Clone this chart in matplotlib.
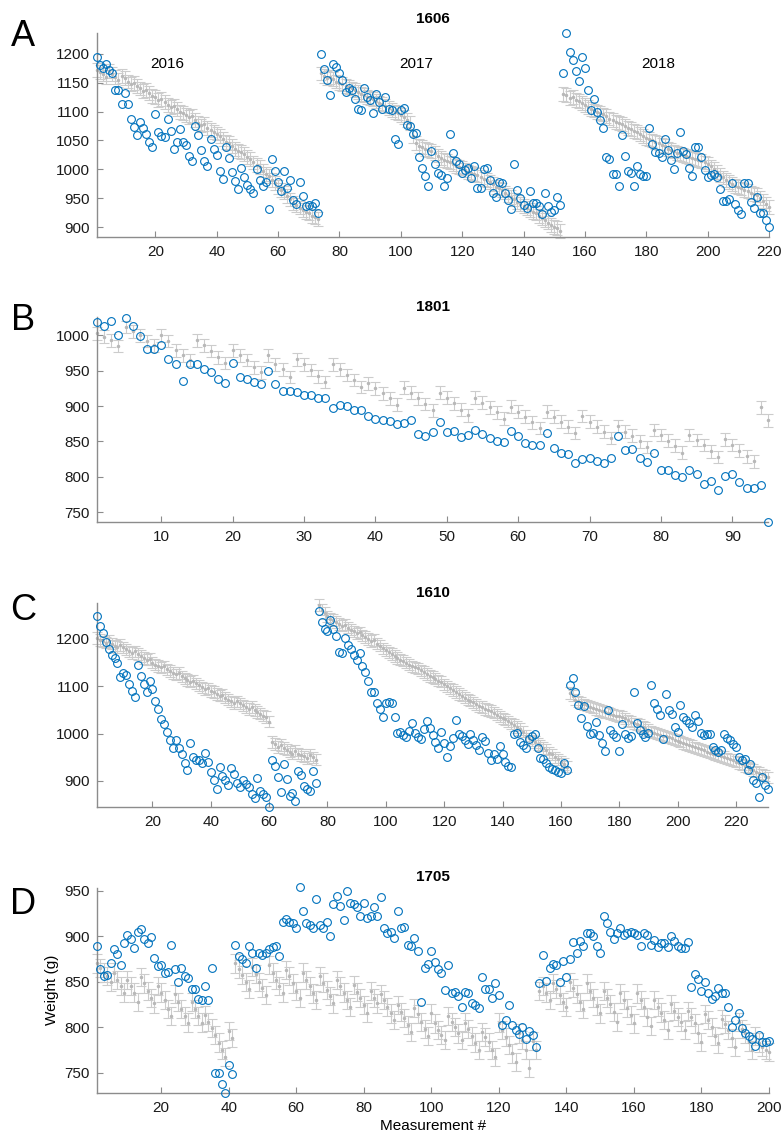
import numpy as np
import matplotlib.pyplot as plt

plt.rcParams['font.family'] = ['Liberation Sans', 'DejaVu Sans']

BLUE = '#0072BD'
GREY = '#cccccc'
GREY_DOT = '#b8b8b8'
AXIS = '#8c8c8c'

# ---- panel A: bird 1606, three seasons ----
a_weight = [
    # 2016
    1194, 1181, 1176, 1183, 1172, 1166, 1138, 1138, 1114, 1132,
    1113, 1087, 1074, 1059, 1082, 1071, 1061, 1048, 1039, 1095,
    1065, 1058, 1056, 1087, 1067, 1036, 1048, 1070, 1047, 1042,
    1024, 1015, 1075, 1059, 1033, 1014, 1005, 1052, 1035, 1025,
    998, 983, 1039, 1020, 995, 980, 966, 1002, 987, 973,
    966, 960, 1000, 982, 971, 978, 932, 1018, 998, 979,
    963, 998, 967, 982, 947, 940, 978, 954, 936, 939,
    937, 941, 925,
    # 2017
    1199, 1174, 1155, 1129, 1183, 1177, 1167, 1154, 1134, 1140,
    1137, 1121, 1105, 1103, 1140, 1125, 1120, 1097, 1131, 1117,
    1105, 1126, 1105,
    1102, 1052, 1044, 1103, 1107, 1076, 1075, 1062, 1063, 1022,
    1002, 989, 971, 1032, 1010, 993, 990, 971, 985, 1061,
    1029, 1015, 1010, 994, 999, 1002, 985, 1005, 967, 967,
    1000, 1002, 982, 959, 952, 979, 976, 959, 947, 932,
    1010, 964, 950, 939, 933, 963, 942, 941, 937, 923,
    959, 937, 927, 930, 953, 939,
    # 2018
    1167, 1236, 1203, 1190, 1170, 1153, 1195, 1176, 1137, 1103,
    1122, 1099, 1086, 1071, 1022, 1018, 992, 992, 971, 1059,
    1023, 998, 994, 971, 1006, 992, 989, 989, 1072, 1044,
    1030, 1029, 1021, 1053, 1033, 1017, 1000, 1028, 1064, 1032,
    1026, 1002, 989, 1039, 1038, 1022, 999, 986, 990, 992,
    986, 966, 945, 946, 948, 977, 940, 930, 923, 977,
    977, 944, 933, 952, 924, 924, 913, 900,
]
a_model = [
    1172, 1168, 1165, 1160, 1170, 1165, 1160, 1155, 1162, 1158,
    1152, 1148, 1150, 1145, 1140, 1135, 1138, 1132, 1127, 1125,
    1120, 1122, 1116, 1112, 1108, 1110, 1104, 1100, 1097, 1094,
    1090, 1092, 1086, 1080, 1076, 1078, 1072, 1068, 1064, 1062,
    1058, 1052, 1048, 1046, 1040, 1036, 1032, 1030, 1026, 1022,
    1018, 1012, 1008, 1004, 998, 992, 988, 982, 976, 970,
    965, 960, 954, 948, 942, 938, 934, 930, 926, 924,
    920, 917, 914,
    1166, 1162, 1158, 1160, 1156, 1152, 1150,
    1148, 1145, 1142, 1140, 1137, 1134, 1130, 1128, 1126, 1124,
    1122, 1118, 1115, 1113, 1110, 1106, 1103, 1100, 1097, 1094,
    1090, 1086, 1080, 1058, 1045, 1040, 1038, 1035, 1034, 1032,
    1028, 1024, 1020, 1016, 1014, 1012, 1010, 1006, 1004, 1002,
    999, 996, 994, 992, 990, 987, 984, 981, 978, 975,
    970, 967, 964, 960, 956, 952, 948, 944, 940, 936,
    933, 930, 927, 924, 920, 916, 912, 908, 904, 901,
    898, 894,
    1130, 1128, 1124, 1126, 1120, 1118, 1115, 1112, 1108, 1105,
    1102, 1100, 1097, 1095, 1092, 1088, 1085, 1082, 1080, 1078,
    1075, 1072, 1070, 1066, 1064, 1061, 1058, 1055, 1052, 1050,
    1047, 1045, 1042, 1040, 1036, 1034, 1031, 1029, 1027, 1025,
    1023, 1022, 1020, 1018, 1016, 1014, 1012, 1010, 1005, 1000,
    995, 990, 986, 982, 978, 975, 972, 969, 967, 964,
    962, 960, 958, 955, 950, 945, 940, 935,
]
a_err = 12
a_years = ['2016', '2017', '2018']
a_year_x = [24, 105, 184]

# ---- panel B: bird 1801 ----
b_weight = [
    1019, 1013, 1021, 1001, 1024, 1013, 999, 981, 981, 986,
    966, 960, 935, 960, 959, 952, 948, 939, 933, 961,
    941, 938, 934, 931, 949, 931, 922, 922, 920, 916,
    916, 911, 911, 897, 901, 900, 894, 894, 886, 882,
    881, 879, 874,
    876, 880, 861, 858, 864, 878, 864, 865, 856, 859,
    866, 860, 855, 851, 849, 865, 857, 848, 845, 845,
    862, 841, 834, 832, 819, 825, 826, 823, 820, 826,
    858, 838, 839, 826, 821, 833, 809, 810, 802, 799,
    809, 804, 790, 794, 781, 801, 804, 793, 784, 784,
    789, 736,
]
b_model = [
    1003, 998, 993, 985, 1012, 1006, 1000, 992, 986,
    1000, 992, 979, 972, 965, 993, 986, 978, 969, 961,
    979, 972, 965, 955, 948, 972, 959, 952, 941, 966,
    959, 951, 942, 934, 959, 952, 944, 937, 927, 932,
    925, 918, 911, 902,
    926, 919, 911, 903, 894, 919, 912, 904, 895, 887,
    912, 905, 898, 891, 882, 899, 892, 885, 877, 869,
    892, 885, 878, 871, 862, 886, 878, 871, 864, 855,
    872, 864, 858, 850, 842, 866, 859, 851, 844, 834,
    859, 852, 845, 836, 828, 853, 845, 837, 829, 822,
    898, 880,
]
b_err = 9

# ---- panel C: bird 1610 ----
c_weight = [
    1248, 1228, 1213, 1193, 1178, 1167, 1160, 1150, 1119, 1128,
    1124, 1105, 1091, 1078,
    1144, 1122, 1105, 1087, 1112, 1094, 1070, 1051, 1030, 1020,
    1004, 986, 969, 986, 969, 958, 938, 924, 981, 951,
    945, 944, 937, 960, 940, 918, 903, 884, 930, 910,
    903, 891, 928, 915, 896, 887, 903, 894, 887, 873,
    865, 907, 878, 873, 867, 845, 944, 931, 908, 877,
    935, 905, 869, 874, 857, 921, 913, 889, 884, 879,
    921, 896,
    1259, 1235, 1221, 1216, 1240, 1221, 1207, 1172, 1170, 1202,
    1188, 1179, 1167, 1156, 1170, 1143, 1131, 1112, 1089, 1087,
    1064, 1053, 1036, 1064, 1066, 1064, 1036, 1002, 1004, 997,
    993, 1005, 1022, 1002, 993, 988, 1010, 1027, 1011, 997,
    983, 969, 1004, 981, 951, 974, 990, 1029, 1000, 995,
    986, 978, 1000, 986, 976, 965, 992, 985, 960, 944,
    958, 947, 974, 958, 940, 931, 930, 1000, 1002, 983,
    975, 969, 988, 995, 1000, 969, 949, 947, 938, 930,
    926, 924, 920, 916, 938, 924,
    1103, 1117, 1089, 1061, 1034, 1058, 1016, 1000, 1002, 1025,
    997, 981, 964, 1049, 1007, 1000, 992, 964, 1020, 1000,
    990, 995, 1089, 1023, 1007, 1000, 993, 1002, 1103, 1064,
    1053, 1039, 988, 1084, 1050, 1041, 1013, 1004, 1061, 1036,
    1029, 1023, 1013, 1039, 1027, 1002, 997, 999, 1000, 972,
    965, 961, 965, 1000, 990, 986, 978, 972, 951, 944,
    947, 924, 935, 903, 896, 867, 908, 891, 884,
]
c_model = [
    1202, 1198, 1195, 1192, 1196, 1190, 1186, 1183, 1187, 1182,
    1178, 1174, 1170, 1174, 1168, 1164, 1160, 1156, 1158, 1150,
    1146, 1143, 1140, 1142, 1136, 1132, 1128, 1125, 1128, 1121,
    1117, 1113, 1110, 1112, 1106, 1102, 1098, 1094, 1096, 1090,
    1088, 1084, 1080, 1082, 1076, 1072, 1068, 1065, 1068, 1064,
    1060, 1056, 1052, 1056, 1050, 1046, 1042, 1038, 1035, 1025,
    982, 978, 972, 976, 970, 966, 962, 958, 964, 958,
    955, 952, 948, 955, 950, 945,
    1272, 1262, 1255, 1248, 1242, 1240, 1236, 1232, 1228, 1230,
    1224, 1220, 1216, 1212, 1214, 1208, 1204, 1200, 1196, 1198,
    1190, 1186, 1180, 1176, 1172, 1168, 1164, 1160, 1156, 1154,
    1150, 1146, 1142, 1140, 1138, 1134, 1130, 1126, 1122, 1120,
    1116, 1112, 1110, 1104, 1100, 1096, 1092, 1088, 1084, 1080,
    1076, 1072, 1070, 1066, 1062, 1058, 1056, 1052, 1050, 1048,
    1044, 1040, 1036, 1032, 1030, 1026, 1022, 1018, 1014, 1010,
    1004, 996, 990, 986, 982, 978, 975, 970, 966, 960,
    956, 950, 946, 940, 936, 930,
    1086, 1080, 1072, 1068, 1066, 1062, 1060, 1057, 1055, 1052,
    1050, 1048, 1046, 1044, 1042, 1040, 1038, 1037, 1036, 1032,
    1028, 1025, 1022, 1020, 1018, 1015, 1012, 1008, 1005, 1002,
    1000, 998, 996, 994, 992, 990, 987, 985, 983, 980,
    978, 976, 974, 971, 969, 967, 965, 962, 960, 958,
    956, 954, 952, 951, 948, 946, 944, 941, 938, 935,
    932, 929, 926, 923, 920, 917, 914, 911, 908,
]
c_err = 12

# ---- panel D: bird 1705 ----
d_weight = [
    889, 864, 856, 857, 870, 886, 880, 868, 892, 901,
    897, 887, 905, 908, 897, 893, 899, 876, 867, 868,
    859, 861, 890, 864, 850, 865, 856, 854, 842, 842,
    831, 830, 845, 830, 865, 750, 750, 737, 728, 758,
    748, 890, 878, 875, 870, 889, 881, 865, 881, 879,
    881, 886, 888, 889, 878, 916, 919, 916, 915, 909,
    954, 928, 914, 912, 909, 941, 912, 909, 916, 900,
    935, 944, 933, 918, 950, 936, 935, 932, 922, 936,
    920, 922, 932, 922, 943, 909, 903,
    905, 898, 928, 909, 910, 890, 889, 898, 884, 828,
    865, 869, 884, 872, 864, 860, 841, 868, 838, 839,
    834, 822, 839, 838, 827, 824, 821, 855, 842, 842,
    832, 848, 835, 802, 808, 824, 802, 797, 792, 800,
    787, 796, 791, 778,
    849, 879, 851, 865, 869, 868, 850, 873, 855, 875,
    894, 881, 895, 889, 903, 903, 900, 889, 881, 922,
    914, 905, 897, 903, 909, 901, 904, 905, 904, 901,
    889, 903, 901, 890, 896, 888, 893, 893, 888, 900,
    895, 889, 887, 887, 894, 844, 858, 853, 840, 850,
    838, 831, 834, 843, 838, 838, 822, 800, 808, 816,
    799, 793, 790, 787, 779, 791, 784, 784, 785,
]
d_model = [
    870, 865, 860, 856, 850, 860, 852, 845, 838, 852,
    845, 838, 828, 855, 848, 840, 832, 826, 845, 838,
    830, 820, 812, 836, 828, 820, 812, 805, 828, 820,
    812, 805, 813, 806, 799, 791, 783, 775, 767, 796,
    788,
    870, 864, 857, 850, 842, 866, 858, 850, 843, 835,
    868, 860, 852, 845, 838, 863, 856, 848, 840, 832,
    860, 852, 845, 837, 830, 856, 849, 841, 834, 826,
    852, 845, 838, 830, 822, 846, 839, 832, 824, 816,
    840, 832, 826, 836, 830, 822, 815, 808, 824, 817,
    810, 802, 795, 821, 814, 806, 798, 790, 815, 804,
    797, 791, 786, 812, 806, 800, 793, 786, 805, 798,
    790, 783, 775, 795, 789, 784, 775, 767, 805, 797,
    789, 780, 771, 762, 793, 786, 775, 755, 785, 775,
    840, 845, 838, 830, 848, 842, 835, 828, 822, 850,
    843, 836, 828, 820, 848, 840, 832, 823, 815, 840,
    832, 825, 817, 806, 837, 830, 821, 813, 804, 837,
    830, 822, 811, 801, 830, 822, 816, 808, 797, 825,
    818, 811, 806, 797, 818, 811, 804, 793, 784, 814,
    808, 800, 790, 782, 809, 803, 797, 788, 778, 806,
    798, 793, 784, 775, 790, 783, 778, 775, 773,
]
d_err = 10

W, H = 782, 1136
fig = plt.figure(figsize=(W / 100, H / 100), dpi=100)


def px_axes(left, top, right, bottom):
    return fig.add_axes([left / W, 1 - bottom / H, (right - left) / W, (bottom - top) / H])


def draw_panel(ax, weight, model, err, xlim, ylim, xticks, yticks):
    xm = np.arange(1, len(model) + 1)
    xw = np.arange(1, len(weight) + 1)
    ax.errorbar(xm, model, yerr=err, fmt='.', color=GREY, mfc=GREY_DOT, mec=GREY_DOT,
                ms=3, elinewidth=0.8, capsize=3.5, capthick=0.8, clip_on=False, zorder=2)
    ax.plot(xw, weight, 'o', mfc='none', mec=BLUE, ms=5.6, mew=0.8, clip_on=False, zorder=3)
    ax.set_xlim(*xlim)
    ax.set_ylim(*ylim)
    ax.set_xticks(xticks)
    ax.set_yticks(yticks)
    for side in ('top', 'right'):
        ax.spines[side].set_visible(False)
    for side in ('left', 'bottom'):
        ax.spines[side].set_color(AXIS)
        ax.spines[side].set_linewidth(1.0)
    ax.tick_params(direction='in', length=4, width=0.8, color=AXIS,
                   labelsize=11, labelcolor='#1a1a1a')
    ax.tick_params(axis='x', pad=6)
    ax.tick_params(axis='y', pad=5)


axA = px_axes(97, 33, 769, 237)
draw_panel(axA, a_weight, a_model, a_err, (1, 220), (883, 1236),
           range(20, 221, 20), range(900, 1201, 50))
for yr, xpos in zip(a_years, a_year_x):
    axA.text(xpos, 1183, yr, ha='center', va='center', fontsize=11)

axB = px_axes(97, 317, 768, 522)
draw_panel(axB, b_weight, b_model, b_err, (1, 95), (736, 1026),
           range(10, 91, 10), range(750, 1001, 50))

axC = px_axes(97, 603, 768, 807)
draw_panel(axC, c_weight, c_model, c_err, (1, 231), (845, 1276),
           range(20, 221, 20), range(900, 1201, 100))

axD = px_axes(97, 888, 769, 1093)
draw_panel(axD, d_weight, d_model, d_err, (1, 200), (727.5, 953),
           range(20, 201, 20), range(750, 951, 50))

# panel titles and letters
for label, title, ty, ly in [('A', '1606', 19, 36), ('B', '1801', 307, 321),
                             ('C', '1610', 593, 611), ('D', '1705', 877, 904)]:
    fig.text(433 / W, 1 - ty / H, title, ha='center', va='center',
             fontsize=11, fontweight='bold')
    fig.text(23 / W, 1 - ly / H, label, ha='center', va='center', fontsize=26)

fig.text(52 / W, 1 - 990 / H, 'Weight (g)', rotation=90, ha='center', va='center', fontsize=11)
fig.text(433 / W, 1 - 1126 / H, 'Measurement #', ha='center', va='center', fontsize=11)

fig.savefig('out.png', dpi=100)
